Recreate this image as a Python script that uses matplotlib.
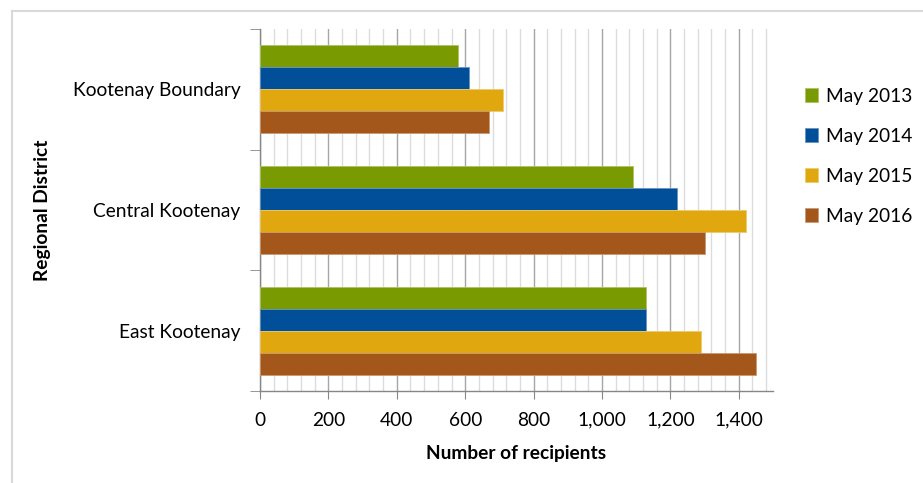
import numpy as np
import matplotlib
matplotlib.use("Agg")
import matplotlib.pyplot as plt
from matplotlib.ticker import MultipleLocator, FuncFormatter
from matplotlib.lines import Line2D

plt.rcParams['font.family'] = ['Lato', 'DejaVu Sans']

# Recipients by regional district, May of each year
districts = ["Kootenay Boundary", "Central Kootenay", "East Kootenay"]
years = ["May 2013", "May 2014", "May 2015", "May 2016"]
may_2013 = [580, 1090, 1130]
may_2014 = [610, 1220, 1130]
may_2015 = [710, 1420, 1290]
may_2016 = [670, 1300, 1450]
series = [may_2013, may_2014, may_2015, may_2016]
colors = ["#7a9a01", "#004f98", "#e0a80e", "#a3571b"]

axis_gray = "#868686"
fs = 13.8

fig = plt.figure(figsize=(9.23, 4.83), dpi=100)
ax = fig.add_axes([0.2817, 0.1905, 0.8375 - 0.2817, 0.94 - 0.1905])

y = np.arange(len(districts))
h = 0.182
for i, (vals, col) in enumerate(zip(series, colors)):
    edge = tuple(0.6 * np.array(matplotlib.colors.to_rgb(col)) + 0.4)
    ax.barh(y + (i - 1.5) * h, vals, height=h, color=col, edgecolor=edge,
            linewidth=0.6, label=years[i], zorder=3)

ax.set_xlim(0, 1500)
ax.set_ylim(2.5, -0.5)

# vertical gridlines: light every 40, darker every 200
ax.xaxis.set_major_locator(MultipleLocator(200))
ax.xaxis.set_minor_locator(MultipleLocator(40))
ax.xaxis.set_major_formatter(FuncFormatter(lambda v, p: f"{int(v):,}"))
ax.grid(axis="x", which="minor", color="#dcdcdc", linewidth=1.0, zorder=0)
ax.grid(axis="x", which="major", color="#a6a6a6", linewidth=1.0, zorder=1)
ax.tick_params(axis="x", which="major", direction="out", length=6,
               color=axis_gray, labelsize=fs, pad=9)
ax.tick_params(axis="x", which="minor", length=0)

# category labels centred, tick marks between groups
ax.set_yticks(y)
ax.set_yticklabels(districts)
ax.set_yticks([-0.5, 0.5, 1.5, 2.5], minor=True)
ax.tick_params(axis="y", which="major", length=0, labelsize=fs, pad=14)
ax.tick_params(axis="y", which="minor", direction="out", length=7,
               color=axis_gray)

for s in ["top", "right"]:
    ax.spines[s].set_visible(False)
for s in ["left", "bottom"]:
    ax.spines[s].set_color(axis_gray)
    ax.spines[s].set_linewidth(1.0)

ax.set_xlabel("Number of recipients", fontsize=fs, fontweight="bold",
              labelpad=12)
ax.set_ylabel("Regional District", fontsize=fs, fontweight="bold",
              labelpad=16)

leg = fig.legend(loc="upper left", bbox_to_anchor=(0.853, 0.854),
                 frameon=False, fontsize=fs, handlelength=0.7,
                 handleheight=0.7, handletextpad=0.4, labelspacing=1.2)

# chart border
border = "#d9d9d9"
fig.add_artist(Line2D([12 / 923, 1], [1 - 11 / 483] * 2,
                      transform=fig.transFigure, color=border, lw=1.5))
fig.add_artist(Line2D([12 / 923] * 2, [0, 1 - 11 / 483],
                      transform=fig.transFigure, color=border, lw=1.5))

fig.savefig("out.png", dpi=100)
plt.close(fig)
